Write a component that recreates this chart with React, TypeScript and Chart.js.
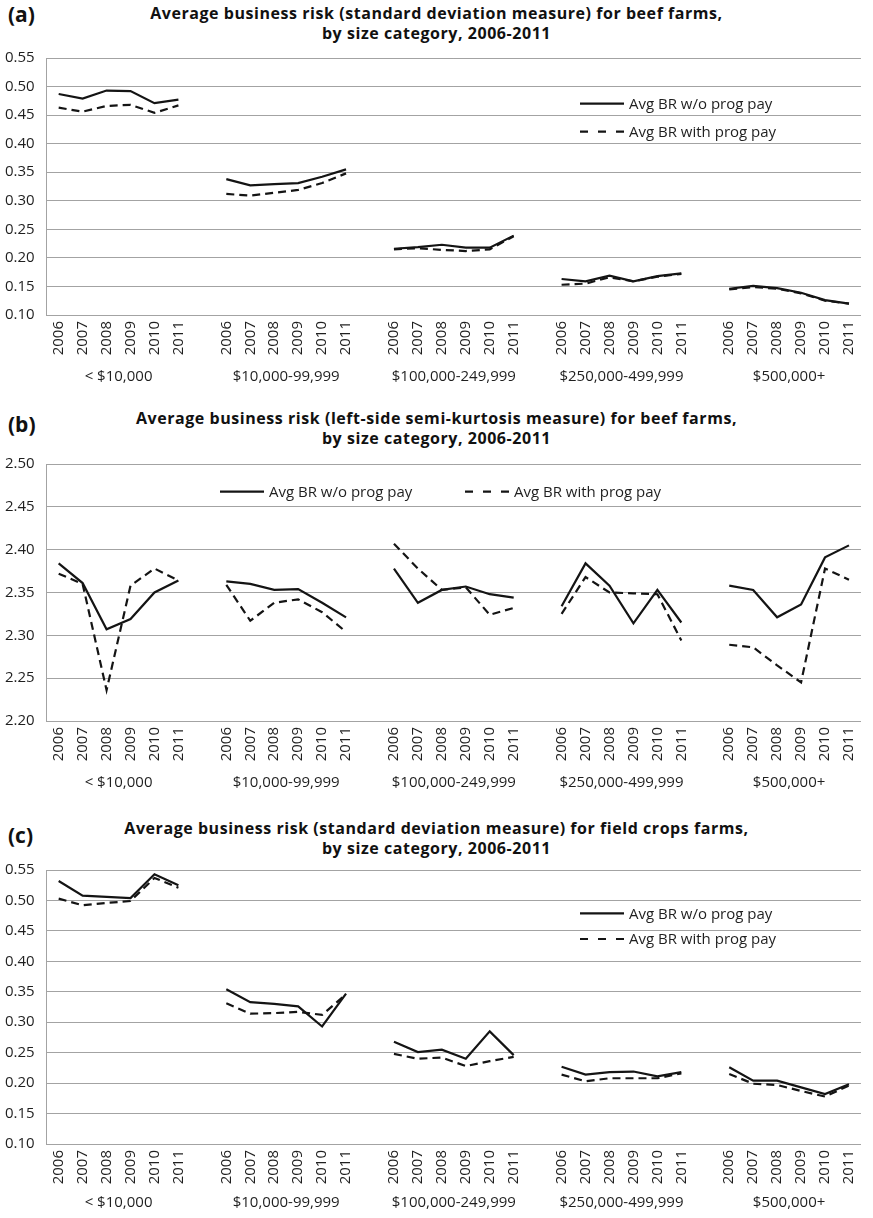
import React, { useEffect, useRef } from 'react';
import { Chart, registerables } from 'chart.js';

Chart.register(...registerables);

// ---------- data ----------
const years = ['2006', '2007', '2008', '2009', '2010', '2011'];
const sizeCategories = ['< $10,000', '$10,000-99,999', '$100,000-249,999', '$250,000-499,999', '$500,000+'];
const seriesNames = ['Avg BR w/o prog pay', 'Avg BR with prog pay'];

// (a) beef farms, standard deviation measure
const beefSdWithout = [
  0.487, 0.479, 0.493, 0.492, 0.471, 0.477,
  0.338, 0.327, 0.329, 0.331, 0.342, 0.355,
  0.216, 0.219, 0.223, 0.218, 0.218, 0.239,
  0.163, 0.159, 0.169, 0.159, 0.168, 0.173,
  0.146, 0.151, 0.147, 0.139, 0.126, 0.120,
];
const beefSdWith = [
  0.463, 0.456, 0.466, 0.468, 0.454, 0.467,
  0.312, 0.309, 0.314, 0.319, 0.331, 0.348,
  0.215, 0.217, 0.214, 0.212, 0.215, 0.238,
  0.153, 0.155, 0.166, 0.159, 0.167, 0.172,
  0.145, 0.149, 0.146, 0.138, 0.125, 0.120,
];

// (b) beef farms, left-side semi-kurtosis measure
const beefKurtWithout = [
  2.384, 2.361, 2.307, 2.319, 2.350, 2.364,
  2.363, 2.360, 2.353, 2.354, 2.338, 2.321,
  2.378, 2.338, 2.353, 2.357, 2.348, 2.344,
  2.334, 2.384, 2.358, 2.314, 2.353, 2.315,
  2.358, 2.353, 2.321, 2.336, 2.391, 2.405,
];
const beefKurtWith = [
  2.372, 2.360, 2.236, 2.358, 2.378, 2.364,
  2.359, 2.317, 2.338, 2.342, 2.327, 2.304,
  2.407, 2.378, 2.353, 2.356, 2.324, 2.332,
  2.325, 2.368, 2.350, 2.349, 2.348, 2.294,
  2.289, 2.286, 2.265, 2.245, 2.378, 2.365,
];

// (c) field crops farms, standard deviation measure
const fieldSdWithout = [
  0.532, 0.508, 0.506, 0.504, 0.543, 0.525,
  0.354, 0.333, 0.330, 0.326, 0.293, 0.347,
  0.268, 0.251, 0.255, 0.240, 0.285, 0.246,
  0.227, 0.214, 0.218, 0.219, 0.211, 0.218,
  0.226, 0.204, 0.204, 0.193, 0.182, 0.198,
];
const fieldSdWith = [
  0.503, 0.492, 0.496, 0.499, 0.537, 0.521,
  0.331, 0.314, 0.315, 0.317, 0.312, 0.346,
  0.248, 0.240, 0.242, 0.228, 0.236, 0.243,
  0.214, 0.203, 0.208, 0.208, 0.208, 0.216,
  0.215, 0.199, 0.197, 0.187, 0.178, 0.196,
];

const sdAxis = { min: 0.1, max: 0.55, step: 0.05 };
const kurtAxis = { min: 2.2, max: 2.5, step: 0.05 };

const titleA = ['Average business risk (standard deviation measure) for beef farms,', 'by size category, 2006-2011'];
const titleB = ['Average business risk (left-side semi-kurtosis measure) for beef farms,', 'by size category, 2006-2011'];
const titleC = ['Average business risk (standard deviation measure) for field crops farms,', 'by size category, 2006-2011'];

// ---------- helpers ----------
const FONT = "'Open Sans', 'DejaVu Sans', sans-serif";
const TEXT = '#1f1f1f';
const GRID = '#a3a3a3';
const LINE = '#141414';
const DASH = [8, 5];
const LEGEND_DASH = [8, 10];

function buildLabels(): string[] {
  const out: string[] = [];
  sizeCategories.forEach((_, g) => {
    if (g > 0) out.push('');
    years.forEach((y) => out.push(y));
  });
  return out;
}

function withGaps(values: number[]): (number | null)[] {
  const out: (number | null)[] = [];
  sizeCategories.forEach((_, g) => {
    if (g > 0) out.push(null);
    for (let i = 0; i < years.length; i++) out.push(values[g * years.length + i]);
  });
  return out;
}

type LegendItemPos = { x: number; y: number };

function makeGroupLabelPlugin(offset: number) {
  return {
    id: 'groupLabels',
    afterDraw(chart: any) {
      const xs = chart.scales.x;
      const ctx = chart.ctx;
      ctx.save();
      ctx.font = `15px ${FONT}`;
      ctx.fillStyle = TEXT;
      ctx.textAlign = 'center';
      ctx.textBaseline = 'middle';
      sizeCategories.forEach((name, g) => {
        const start = g * (years.length + 1);
        const x = (xs.getPixelForValue(start) + xs.getPixelForValue(start + years.length - 1)) / 2;
        ctx.fillText(name, x, chart.chartArea.bottom + offset);
      });
      ctx.restore();
    },
  };
}

function makeLegendPlugin(items: LegendItemPos[]) {
  return {
    id: 'insideLegend',
    afterDatasetsDraw(chart: any) {
      const ctx = chart.ctx;
      const { left, top } = chart.chartArea;
      ctx.save();
      ctx.font = `15px ${FONT}`;
      ctx.fillStyle = TEXT;
      ctx.textAlign = 'left';
      ctx.textBaseline = 'middle';
      chart.data.datasets.forEach((ds: any, i: number) => {
        const it = items[i];
        const x = left + it.x;
        const y = top + it.y;
        ctx.beginPath();
        ctx.setLineDash(ds.borderDash ? LEGEND_DASH : []);
        ctx.lineWidth = ds.borderWidth;
        ctx.strokeStyle = ds.borderColor;
        ctx.moveTo(x, y);
        ctx.lineTo(x + 44, y);
        ctx.stroke();
        ctx.setLineDash([]);
        ctx.fillText(ds.label, x + 49, y + 1);
      });
      ctx.restore();
    },
  };
}

type PanelProps = {
  top: number;
  height: number;
  without: number[];
  withPay: number[];
  axis: { min: number; max: number; step: number };
  legend: LegendItemPos[];
  groupOffset: number;
  xHeight: number;
};

function Panel({ top, height, without, withPay, axis, legend, groupOffset, xHeight }: PanelProps) {
  const ref = useRef<HTMLCanvasElement | null>(null);
  useEffect(() => {
    if (!ref.current) return;
    const chart = new Chart(ref.current, {
      type: 'line',
      data: {
        labels: buildLabels(),
        datasets: [
          {
            label: seriesNames[0],
            data: withGaps(without),
            borderColor: LINE,
            borderWidth: 2.2,
            pointRadius: 0,
            fill: false,
            spanGaps: false,
            tension: 0,
          },
          {
            label: seriesNames[1],
            data: withGaps(withPay),
            borderColor: LINE,
            borderWidth: 2.2,
            borderDash: DASH,
            pointRadius: 0,
            fill: false,
            spanGaps: false,
            tension: 0,
          },
        ],
      },
      options: {
        responsive: false,
        animation: false,
        devicePixelRatio: 1,
        layout: { padding: { top: 10, left: 0, right: 2, bottom: 0 } },
        plugins: {
          legend: { display: false },
          title: { display: false },
          tooltip: { enabled: false },
        },
        scales: {
          x: {
            type: 'category',
            offset: true,
            grid: { display: false, drawTicks: false },
            border: { display: true, color: GRID, width: 1 },
            ticks: {
              autoSkip: false,
              minRotation: 90,
              maxRotation: 90,
              padding: 6,
              color: TEXT,
              font: { family: FONT, size: 15 },
            },
            afterFit: (scale: any) => {
              scale.height = xHeight;
            },
          },
          y: {
            min: axis.min,
            max: axis.max,
            grid: { color: GRID, lineWidth: 1, drawTicks: false },
            border: { display: true, color: GRID, width: 1 },
            ticks: {
              stepSize: axis.step,
              padding: 12,
              color: TEXT,
              font: { family: FONT, size: 15 },
              callback: (v: any) => Number(v).toFixed(2),
            },
            afterFit: (scale: any) => {
              scale.width = 46.7;
            },
          },
        },
      } as any,
      plugins: [makeGroupLabelPlugin(groupOffset), makeLegendPlugin(legend)],
    });
    let alive = true;
    if ((document as any).fonts && (document as any).fonts.ready) {
      (document as any).fonts.ready.then(() => {
        if (alive) chart.update();
      });
    }
    return () => {
      alive = false;
      chart.destroy();
    };
  }, []);
  return (
    <canvas
      ref={ref}
      width={873}
      height={height}
      style={{ position: 'absolute', left: 0, top, width: 873, height }}
    />
  );
}

function Title({ lines, top }: { lines: string[]; top: number }) {
  return (
    <div
      style={{
        position: 'absolute',
        left: 0,
        top,
        width: 873,
        textAlign: 'center',
        fontFamily: FONT,
        fontWeight: 700,
        fontSize: 16,
        letterSpacing: '0.55px',
        lineHeight: '19.5px',
        color: '#111',
      }}
    >
      {lines.map((l, i) => (
        <div key={i}>{l}</div>
      ))}
    </div>
  );
}

function PanelLabel({ text, top }: { text: string; top: number }) {
  return (
    <div
      style={{
        position: 'absolute',
        left: 8,
        top,
        fontFamily: FONT,
        fontWeight: 700,
        fontSize: 21,
        lineHeight: '26px',
        color: '#111',
      }}
    >
      {text}
    </div>
  );
}

export default function App() {
  useEffect(() => {
    document.body.style.margin = '0';
  }, []);
  return (
    <div style={{ position: 'relative', width: 873, height: 1218, background: '#fff', overflow: 'hidden' }}>
      <PanelLabel text="(a)" top={1} />
      <Title lines={titleA} top={4} />
      <Panel
        top={37}
        height={353}
        without={beefSdWithout}
        withPay={beefSdWith}
        axis={sdAxis}
        legend={[{ x: 533.3, y: 45.7 }, { x: 533.3, y: 73.7 }]}
        groupOffset={62}
        xHeight={75}
      />

      <PanelLabel text="(b)" top={411} />
      <Title lines={titleB} top={409} />
      <Panel
        top={443}
        height={353}
        without={beefKurtWithout}
        withPay={beefKurtWith}
        axis={kurtAxis}
        legend={[{ x: 173.3, y: 27.7 }, { x: 418.3, y: 27.7 }]}
        groupOffset={62}
        xHeight={75}
      />

      <PanelLabel text="(c)" top={822} />
      <Title lines={titleC} top={819} />
      <Panel
        top={849}
        height={369}
        without={fieldSdWithout}
        withPay={fieldSdWith}
        axis={sdAxis}
        legend={[{ x: 533.3, y: 43.4 }, { x: 533.3, y: 69 }]}
        groupOffset={59}
        xHeight={74}
      />
    </div>
  );
}
